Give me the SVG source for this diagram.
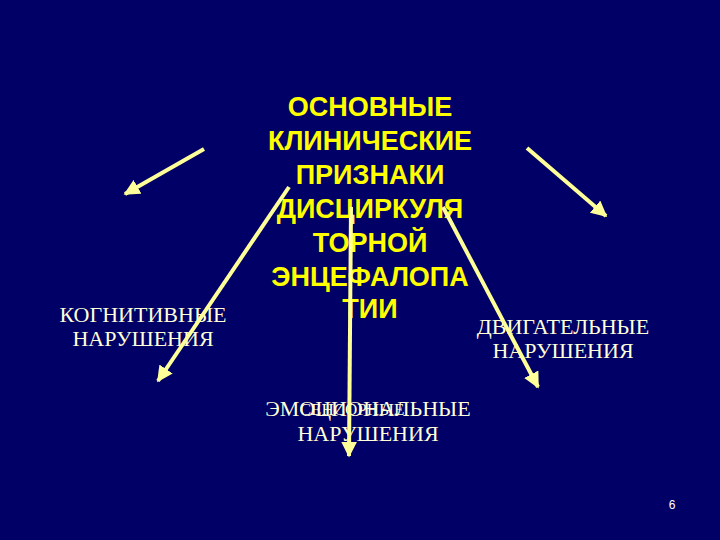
<svg xmlns="http://www.w3.org/2000/svg" width="720" height="540" viewBox="0 0 720 540">
<defs>
<style>
.title{font-family:"Liberation Sans",Arial,sans-serif;font-weight:bold;font-size:27px;fill:#FFFF00;text-anchor:middle}
.lbl{font-family:"Liberation Serif","Times New Roman",serif;font-size:22px;fill:#FFFFD8;text-anchor:middle}
.small{font-family:"Liberation Serif","Times New Roman",serif;font-size:17px;fill:#FFFFD8;text-anchor:middle}
.arr{stroke:#FFFF99;stroke-width:4;fill:none;marker-end:url(#ah)}
.num{font-family:"Liberation Sans",Arial,sans-serif;font-size:12px;fill:#FFFFFF;text-anchor:middle}
</style>
<marker id="ah" viewBox="0 0 10 10" refX="9" refY="5" markerWidth="4" markerHeight="4" orient="auto" markerUnits="strokeWidth">
<path d="M0,0 L10,5 L0,10 Z" fill="#FFFF99"/>
</marker>
</defs>
<rect width="720" height="540" fill="#000066"/>
<g id="title">
<text class="title" x="370" y="116">ОСНОВНЫЕ</text>
<text class="title" x="370" y="150">КЛИНИЧЕСКИЕ</text>
<text class="title" x="370" y="184">ПРИЗНАКИ</text>
<text class="title" x="370" y="218">ДИСЦИРКУЛЯ</text>
<text class="title" x="370" y="252">ТОРНОЙ</text>
<text class="title" x="370" y="286">ЭНЦЕФАЛОПА</text>
<text class="title" x="370" y="318">ТИИ</text>
</g>
<g id="cognitive">
<text class="lbl" x="143" y="322">КОГНИТИВНЫЕ</text>
<text class="lbl" x="143" y="346">НАРУШЕНИЯ</text>
</g>
<g id="motor">
<text class="lbl" x="563" y="334">ДВИГАТЕЛЬНЫЕ</text>
<text class="lbl" x="563" y="358">НАРУШЕНИЯ</text>
</g>
<g id="emotional">
<text class="lbl" x="368" y="416">ЭМОЦИОНАЛЬНЫЕ</text>
<text class="small" x="352" y="415">СЕНСОРНЫЕ</text>
<text class="lbl" x="368" y="441">НАРУШЕНИЯ</text>
</g>
<g id="connectors">
<line class="arr" x1="204" y1="149" x2="125" y2="194"/>
<line class="arr" x1="289" y1="187" x2="158" y2="381"/>
<line class="arr" x1="351" y1="207" x2="349" y2="456"/>
<line class="arr" x1="443" y1="207" x2="538" y2="387"/>
<line class="arr" x1="527" y1="148" x2="606" y2="216"/>
</g>
<g id="page">
<text class="num" x="672" y="509">6</text>
</g>
</svg>
